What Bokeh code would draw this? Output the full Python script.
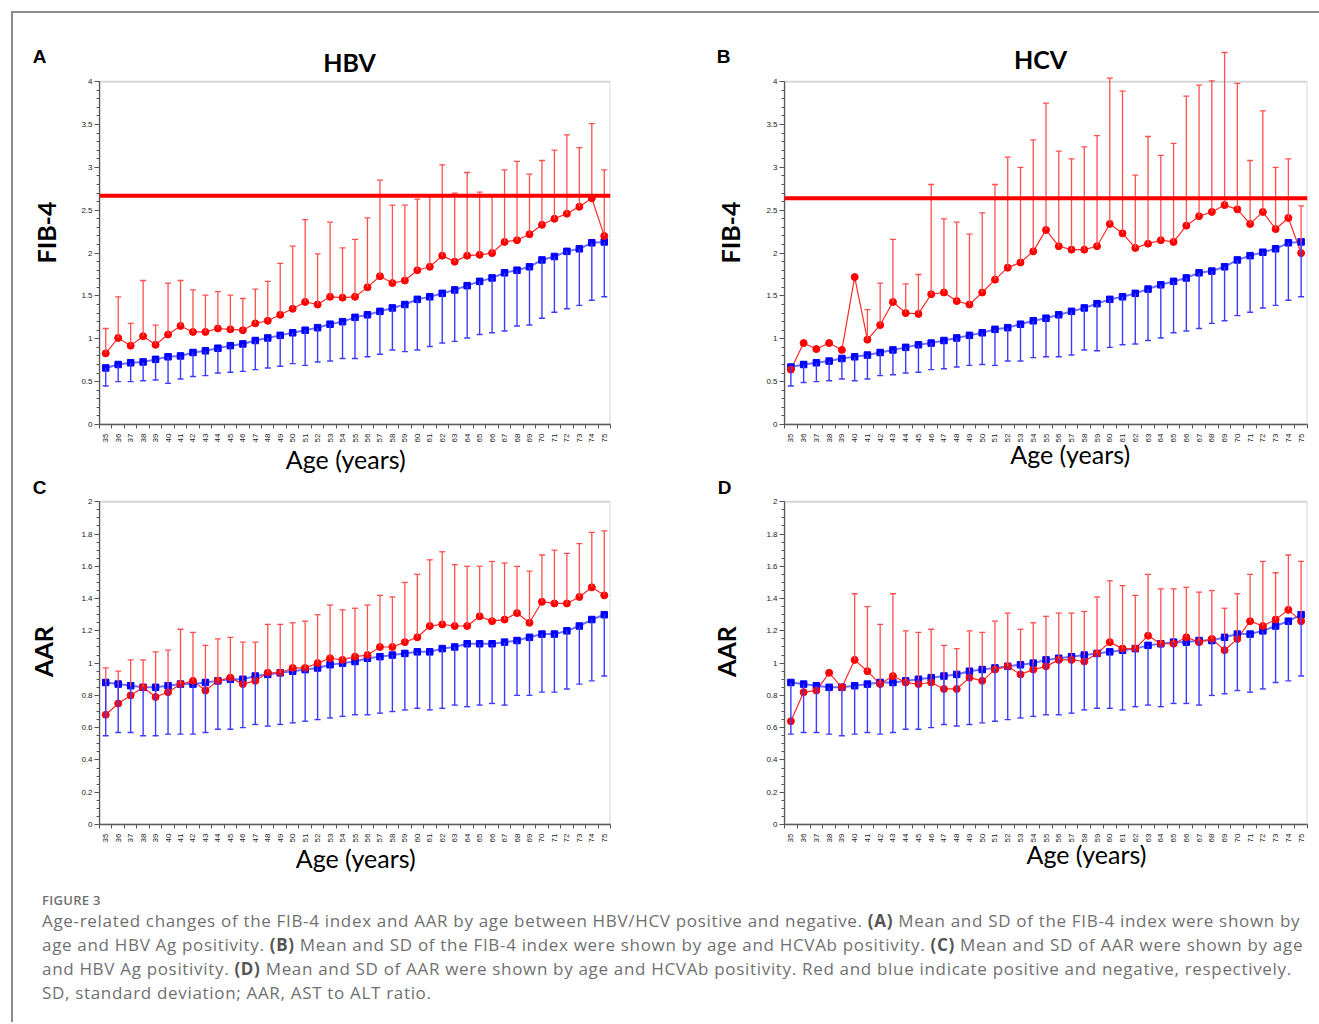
import math
from bokeh.plotting import figure
from bokeh.models import (ColumnDataSource, Whisker, TeeHead, Span, Label, FixedTicker,
                          BoxAnnotation, Div, Spacer, Range1d, LinearAxis)
from bokeh.layouts import row, column
from bokeh.embed import file_html
from bokeh.resources import INLINE

NaN = float("nan")

ages = [35, 36, 37, 38, 39, 40, 41, 42, 43, 44, 45, 46, 47, 48, 49, 50, 51, 52, 53, 54,
        55, 56, 57, 58, 59, 60, 61, 62, 63, 64, 65, 66, 67, 68, 69, 70, 71, 72, 73, 74, 75]

# ---------------- Panel A : FIB-4 by HBV Ag ----------------
hbv_fib_pos_mean = [0.83, 1.01, 0.92, 1.03, 0.93, 1.05, 1.15, 1.08, 1.08, 1.12, 1.11, 1.10, 1.18, 1.21,
                    1.28, 1.35, 1.43, 1.40, 1.49, 1.48, 1.49, 1.60, 1.73, 1.65, 1.68, 1.80, 1.84, 1.97,
                    1.90, 1.97, 1.98, 2.00, 2.13, 2.15, 2.22, 2.33, 2.40, 2.46, 2.54, 2.64, 2.20]
hbv_fib_pos_upper = [1.12, 1.49, 1.18, 1.68, 1.16, 1.65, 1.68, 1.57, 1.51, 1.55, 1.51, 1.47, 1.58, 1.67,
                     1.88, 2.08, 2.39, 1.99, 2.36, 2.06, 2.16, 2.41, 2.85, 2.56, 2.56, 2.63, 2.66, 3.03,
                     2.70, 2.94, 2.71, 2.67, 2.97, 3.07, 2.92, 3.08, 3.20, 3.38, 3.23, 3.51, 2.97]
hbv_fib_neg_mean = [0.66, 0.70, 0.72, 0.73, 0.76, 0.79, 0.80, 0.84, 0.86, 0.89, 0.92, 0.94, 0.98, 1.01,
                    1.04, 1.07, 1.10, 1.13, 1.17, 1.20, 1.25, 1.28, 1.32, 1.36, 1.40, 1.46, 1.49, 1.53,
                    1.57, 1.62, 1.67, 1.71, 1.77, 1.80, 1.84, 1.92, 1.96, 2.02, 2.05, 2.12, 2.13]
hbv_fib_neg_lower = [0.45, 0.50, 0.50, 0.51, 0.52, 0.48, 0.53, 0.56, 0.57, 0.60, 0.61, 0.62, 0.64, 0.66,
                     0.68, 0.71, 0.69, 0.73, 0.74, 0.77, 0.77, 0.79, 0.82, 0.87, 0.85, 0.87, 0.91, 0.95,
                     0.97, 1.01, 1.05, 1.07, 1.09, 1.15, 1.16, 1.24, 1.31, 1.35, 1.39, 1.45, 1.49]
hbv_fib_cutoff = 2.67

# ---------------- Panel B : FIB-4 by HCVAb ----------------
hcv_fib_pos_mean = [0.64, 0.95, 0.88, 0.95, 0.87, 1.72, 0.99, 1.16, 1.43, 1.30, 1.29, 1.52, 1.54, 1.44,
                    1.40, 1.54, 1.69, 1.83, 1.89, 2.02, 2.27, 2.08, 2.04, 2.04, 2.08, 2.34, 2.23, 2.06,
                    2.11, 2.15, 2.13, 2.32, 2.43, 2.48, 2.56, 2.51, 2.34, 2.48, 2.28, 2.41, 2.00]
hcv_fib_pos_upper = [NaN, NaN, NaN, NaN, NaN, NaN, 1.34, 1.65, 2.16, 1.64, 1.75, 2.80, 2.40, 2.36,
                     2.22, 2.47, 2.80, 3.12, 3.00, 3.32, 3.75, 3.19, 3.10, 3.24, 3.37, 4.04, 3.89, 2.91,
                     3.36, 3.14, 3.28, 3.83, 3.96, 4.01, 4.34, 3.98, 3.08, 3.66, 3.00, 3.10, 2.55]
hcv_fib_neg_mean = [0.67, 0.70, 0.72, 0.74, 0.77, 0.79, 0.81, 0.84, 0.87, 0.90, 0.93, 0.95, 0.98, 1.01,
                    1.04, 1.07, 1.11, 1.13, 1.17, 1.21, 1.24, 1.28, 1.32, 1.36, 1.41, 1.46, 1.49, 1.53,
                    1.58, 1.63, 1.67, 1.71, 1.77, 1.79, 1.84, 1.92, 1.97, 2.01, 2.05, 2.12, 2.13]
hcv_fib_neg_lower = [0.45, 0.49, 0.50, 0.51, 0.53, 0.51, 0.53, 0.57, 0.58, 0.60, 0.61, 0.64, 0.65, 0.67,
                     0.69, 0.70, 0.69, 0.74, 0.74, 0.78, 0.79, 0.79, 0.81, 0.87, 0.86, 0.90, 0.93, 0.94,
                     0.98, 1.01, 1.07, 1.09, 1.12, 1.18, 1.21, 1.27, 1.31, 1.36, 1.39, 1.45, 1.49]
hcv_fib_cutoff = 2.64

# ---------------- Panel C : AAR by HBV Ag ----------------
hbv_aar_pos_mean = [0.68, 0.75, 0.80, 0.85, 0.79, 0.82, 0.87, 0.89, 0.83, 0.89, 0.91, 0.87, 0.89, 0.94,
                    0.94, 0.97, 0.97, 1.00, 1.03, 1.02, 1.04, 1.05, 1.10, 1.10, 1.13, 1.16, 1.23, 1.24,
                    1.23, 1.23, 1.29, 1.26, 1.27, 1.31, 1.25, 1.38, 1.37, 1.37, 1.41, 1.47, 1.42]
hbv_aar_pos_upper = [0.97, 0.95, 1.02, 1.02, 1.07, 1.08, 1.21, 1.19, 1.11, 1.15, 1.16, 1.13, 1.13, 1.24,
                     1.24, 1.25, 1.26, 1.30, 1.36, 1.33, 1.34, 1.36, 1.42, 1.41, 1.50, 1.55, 1.64, 1.69,
                     1.61, 1.60, 1.60, 1.63, 1.62, 1.60, 1.57, 1.67, 1.70, 1.68, 1.74, 1.81, 1.82]
hbv_aar_neg_mean = [0.88, 0.87, 0.86, 0.85, 0.85, 0.86, 0.87, 0.87, 0.88, 0.89, 0.90, 0.90, 0.92, 0.93,
                    0.94, 0.95, 0.96, 0.97, 0.99, 1.00, 1.01, 1.03, 1.04, 1.05, 1.06, 1.07, 1.07, 1.09,
                    1.10, 1.12, 1.12, 1.12, 1.13, 1.14, 1.16, 1.18, 1.18, 1.20, 1.23, 1.27, 1.30]
hbv_aar_neg_lower = [0.55, 0.57, 0.57, 0.55, 0.55, 0.56, 0.56, 0.56, 0.57, 0.59, 0.59, 0.60, 0.62, 0.61,
                     0.62, 0.63, 0.64, 0.65, 0.66, 0.67, 0.68, 0.68, 0.69, 0.70, 0.71, 0.72, 0.71, 0.72,
                     0.74, 0.73, 0.74, 0.75, 0.74, 0.80, 0.80, 0.82, 0.82, 0.84, 0.87, 0.89, 0.92]

# ---------------- Panel D : AAR by HCVAb ----------------
hcv_aar_pos_mean = [0.64, 0.82, 0.83, 0.94, 0.85, 1.02, 0.95, 0.87, 0.92, 0.88, 0.87, 0.88, 0.84, 0.84,
                    0.91, 0.89, 0.96, 0.98, 0.93, 0.96, 0.98, 1.02, 1.02, 1.01, 1.06, 1.13, 1.09, 1.09,
                    1.17, 1.12, 1.12, 1.16, 1.13, 1.15, 1.08, 1.15, 1.26, 1.23, 1.27, 1.33, 1.26]
hcv_aar_pos_upper = [NaN, NaN, NaN, NaN, NaN, 1.43, 1.35, 1.24, 1.43, 1.20, 1.19, 1.21, 1.11, 1.09,
                     1.20, 1.19, 1.26, 1.31, 1.21, 1.25, 1.29, 1.31, 1.31, 1.32, 1.41, 1.51, 1.48, 1.42,
                     1.55, 1.46, 1.46, 1.47, 1.44, 1.45, 1.34, 1.43, 1.55, 1.63, 1.56, 1.67, 1.63]
hcv_aar_neg_mean = [0.88, 0.87, 0.86, 0.85, 0.85, 0.86, 0.87, 0.88, 0.88, 0.89, 0.90, 0.91, 0.92, 0.93,
                    0.95, 0.96, 0.97, 0.98, 0.99, 1.00, 1.02, 1.03, 1.04, 1.05, 1.06, 1.07, 1.08, 1.09,
                    1.11, 1.12, 1.13, 1.13, 1.14, 1.14, 1.16, 1.18, 1.18, 1.20, 1.23, 1.26, 1.30]
hcv_aar_neg_lower = [0.56, 0.57, 0.57, 0.56, 0.55, 0.56, 0.57, 0.56, 0.57, 0.59, 0.59, 0.60, 0.62, 0.61,
                     0.62, 0.63, 0.64, 0.65, 0.66, 0.67, 0.68, 0.68, 0.69, 0.71, 0.72, 0.72, 0.71, 0.73,
                     0.74, 0.73, 0.75, 0.75, 0.74, 0.80, 0.81, 0.83, 0.82, 0.84, 0.88, 0.89, 0.92]

fib_ticks = [0, 0.5, 1, 1.5, 2, 2.5, 3, 3.5, 4]
fib_tick_labels = ["0", "0.5", "1", "1.5", "2", "2.5", "3", "3.5", "4"]
aar_ticks = [0, 0.2, 0.4, 0.6, 0.8, 1, 1.2, 1.4, 1.6, 1.8, 2]
aar_tick_labels = ["0", "0.2", "0.4", "0.6", "0.8", "1", "1.2", "1.4", "1.6", "1.8", "2"]
x_title = "Age (years)"

RED = "#ff0000"
RED_LINE = "#ff2a2a"
RED_BAR = "#ff5050"
BLUE = "#0000ff"
BLUE_LINE = "#7070ff"
BLUE_BAR = "#3c3cff"
AXIS = "#555555"
FRAME = "#777777"


def valid(xs, ys, zs):
    keep = [i for i in range(len(xs)) if not math.isnan(zs[i])]
    return dict(x=[xs[i] for i in keep], m=[ys[i] for i in keep], e=[zs[i] for i in keep])


def hidden_axis(tick, text, font, size, style, standoff):
    ax = LinearAxis(ticker=FixedTicker(ticks=[tick]), major_label_overrides={tick: text})
    ax.axis_line_color = None
    ax.major_tick_line_color = None
    ax.minor_tick_line_color = None
    ax.major_tick_out = 0
    ax.major_tick_in = 0
    ax.minor_tick_out = 0
    ax.major_label_standoff = standoff
    ax.major_label_orientation = "horizontal"
    ax.major_label_text_font = font
    ax.major_label_text_font_size = size
    ax.major_label_text_font_style = style
    ax.major_label_text_color = "#000000"
    return ax


def make_panel(letter, title, ylabel, pos_mean, pos_upper, neg_mean, neg_lower,
               yticks, ylabels, yminor, geom, cutoff=None):
    w, h, bl, br, bt, bb = geom["size"]
    y_top = yticks[-1]
    p = figure(width=w, height=h, x_range=Range1d(34.5, 75.5),
               y_range=Range1d(0, geom["y_end"]),
               output_backend="svg", toolbar_location=None,
               min_border_left=bl, min_border_right=br, min_border_top=bt, min_border_bottom=bb,
               background_fill_color="white", border_fill_color="white")
    p.xgrid.visible = False
    p.ygrid.visible = False
    p.outline_line_color = None
    p.add_layout(BoxAnnotation(bottom=0, top=y_top, fill_color=None, fill_alpha=0,
                               line_color=FRAME, line_width=2))

    red_src = ColumnDataSource(valid(ages, pos_mean, pos_upper))
    blue_src = ColumnDataSource(valid(ages, neg_mean, neg_lower))

    rw = Whisker(source=red_src, base="x", lower="m", upper="e", dimension="height",
                 line_color=RED_BAR, line_width=1.3, level="glyph",
                 upper_head=TeeHead(size=6, line_color=RED_BAR, line_width=1.3), lower_head=None)
    bw = Whisker(source=blue_src, base="x", lower="e", upper="m", dimension="height",
                 line_color=BLUE_BAR, line_width=1.4, level="glyph",
                 lower_head=TeeHead(size=6, line_color=BLUE_BAR, line_width=1.4), upper_head=None)
    p.add_layout(rw)
    p.add_layout(bw)

    p.line(ages, neg_mean, line_color=BLUE_LINE, line_width=2)
    p.line(ages, pos_mean, line_color=RED_LINE, line_width=1.2)
    p.scatter(ages, neg_mean, marker="square", size=6.5, fill_color=BLUE, line_color=BLUE)
    p.scatter(ages, pos_mean, marker="circle", size=7, fill_color=RED, line_color=RED)

    if cutoff is not None:
        p.add_layout(Span(location=cutoff, dimension="width", line_color=RED, line_width=4))

    # x axis (ages)
    xa = p.xaxis[0]
    xa.ticker = FixedTicker(ticks=ages, minor_ticks=[a - 0.5 for a in ages] + [ages[-1] + 0.5])
    xa.major_label_orientation = math.pi / 2
    xa.major_tick_out = 0
    xa.major_tick_in = 0
    xa.minor_tick_out = 4
    xa.minor_tick_in = 0
    xa.major_label_standoff = 5
    xa.major_label_text_font = "Liberation Sans"
    xa.major_label_text_font_size = "8px"
    xa.major_label_text_color = "#222222"
    xa.axis_line_color = AXIS
    xa.axis_line_width = 1.3
    xa.major_tick_line_color = AXIS
    xa.minor_tick_line_color = AXIS

    # y axis (values) with its title
    ya = p.yaxis[0]
    ya.ticker = FixedTicker(ticks=yticks, minor_ticks=yminor)
    ya.major_label_overrides = {t: s for t, s in zip(yticks, ylabels)}
    ya.bounds = (0, y_top)
    ya.major_tick_out = 5
    ya.major_tick_in = 0
    ya.minor_tick_out = 3
    ya.minor_tick_in = 0
    ya.major_label_standoff = 2
    ya.major_label_text_font = "Liberation Sans"
    ya.major_label_text_font_size = "8px"
    ya.major_label_text_color = "#222222"
    ya.axis_line_color = AXIS
    ya.axis_line_width = 1.3
    ya.major_tick_line_color = AXIS
    ya.minor_tick_line_color = AXIS
    ya.axis_label = ylabel
    ya.axis_label_text_font = "Lato"
    ya.axis_label_text_font_style = "bold"
    ya.axis_label_text_font_size = "25px"
    ya.axis_label_text_color = "#000000"
    ya.axis_label_standoff = geom["ylab_standoff"]

    # panel letter (left margin) and x-axis title (below), as labels of unlined axes
    p.add_layout(hidden_axis(geom["letter_y"], letter, "Liberation Sans", "19px", "bold",
                             geom["letter_standoff"]), "left")
    p.add_layout(hidden_axis(geom["xlab_x"], x_title, "Lato", "25px", "normal",
                             geom["xlab_standoff"]), "below")

    if title:
        tx, ty = geom["title"]
        p.add_layout(Label(x=tx, y=ty, x_units="screen", y_units="screen", text=title,
                           text_font="Lato", text_font_style="bold", text_font_size="25px",
                           text_align="center", text_baseline="middle", text_color="#000000"))
    return p


fib_minor = [i / 10 for i in range(41)]
aar_minor = [i / 20 for i in range(41)]

pA = make_panel("A", "HBV", "FIB-4", hbv_fib_pos_mean, hbv_fib_pos_upper, hbv_fib_neg_mean,
                hbv_fib_neg_lower, fib_ticks, fib_tick_labels, fib_minor,
                dict(size=(687, 463, 86, 90, 27, 52), y_end=4.48, letter_y=4.29,
                     letter_standoff=-18, ylab_standoff=17, title=(250, 363),
                     xlab_x=54.26, xlab_standoff=-2),
                cutoff=hbv_fib_cutoff)
pB = make_panel("B", "HCV", "FIB-4", hcv_fib_pos_mean, hcv_fib_pos_upper, hcv_fib_neg_mean,
                hcv_fib_neg_lower, fib_ticks, fib_tick_labels, fib_minor,
                dict(size=(619, 463, 84, 12, 27, 52), y_end=4.48, letter_y=4.29,
                     letter_standoff=-18, ylab_standoff=18, title=(256, 366),
                     xlab_x=56.9, xlab_standoff=-7),
                cutoff=hcv_fib_cutoff)
pC = make_panel("C", None, "AAR", hbv_aar_pos_mean, hbv_aar_pos_upper, hbv_aar_neg_mean,
                hbv_aar_neg_lower, aar_ticks, aar_tick_labels, aar_minor,
                dict(size=(687, 406, 86, 90, 2, 58), y_end=2.144, letter_y=2.088,
                     letter_standoff=-21, ylab_standoff=20,
                     xlab_x=55.06, xlab_standoff=-3))
pD = make_panel("D", None, "AAR", hcv_aar_pos_mean, hcv_aar_pos_upper, hcv_aar_neg_mean,
                hcv_aar_neg_lower, aar_ticks, aar_tick_labels, aar_minor,
                dict(size=(619, 406, 84, 12, 2, 58), y_end=2.144, letter_y=2.088,
                     letter_standoff=-23, ylab_standoff=22,
                     xlab_x=58.17, xlab_standoff=-7))

bcol = "#555555"
caption_html = (
    "<div style=\"font-family:'Open Sans';color:#707070;padding-left:29px;padding-top:9px;"
    "white-space:nowrap;\">"
    "<div style=\"font-size:13px;line-height:18px;font-weight:600;letter-spacing:0.3px;\">FIGURE 3</div>"
    "<div style=\"font-size:17px;line-height:24px;letter-spacing:0.68px;\">"
    "Age-related changes of the FIB-4 index and AAR by age between HBV/HCV positive and negative. "
    f"<b style='color:{bcol}'>(A)</b> Mean and SD of the FIB-4 index were shown by<br>"
    f"age and HBV Ag positivity. <b style='color:{bcol}'>(B)</b> Mean and SD of the FIB-4 index were shown by age and HCVAb positivity. "
    f"<b style='color:{bcol}'>(C)</b> Mean and SD of AAR were shown by age<br>"
    f"and HBV Ag positivity. <b style='color:{bcol}'>(D)</b> Mean and SD of AAR were shown by age and HCVAb positivity. "
    "Red and blue indicate positive and negative, respectively.<br>"
    "SD, standard deviation; AAR, AST to ALT ratio."
    "</div></div>"
)
cap = Div(text=caption_html, width=1306, height=140, margin=0)

top_line = Div(text="", width=1308, height=2, margin=0, styles={"background-color": "#8c8c8c"})
left_line = Div(text="", width=2, height=1009, margin=0, styles={"background-color": "#8c8c8c"})

content = column(row(pA, pB), row(pC, pD), cap)
layout = column(
    Spacer(width=10, height=11),
    row(Spacer(width=11, height=2), top_line),
    row(Spacer(width=11, height=10), left_line, content),
)

open("out.html", "w").write(file_html(layout, INLINE))
